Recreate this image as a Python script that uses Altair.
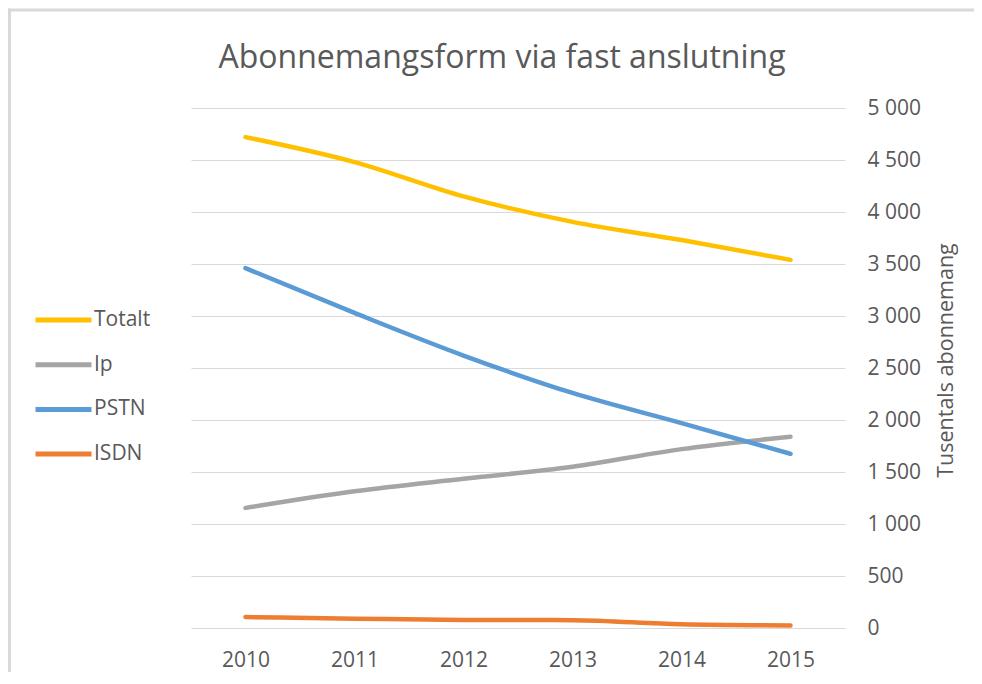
import altair as alt
import pandas as pd

years = ["2010", "2011", "2012", "2013", "2014", "2015"]
series = ["Totalt", "Ip", "PSTN", "ISDN"]
colors = ["#FFC000", "#A5A5A5", "#5B9BD5", "#ED7D31"]

totalt = [4720, 4480, 4150, 3905, 3730, 3540]
ip = [1155, 1315, 1435, 1550, 1720, 1840]
pstn = [3460, 3030, 2620, 2260, 1970, 1675]
isdn = [105, 90, 78, 75, 36, 25]

y_ticks = [0, 500, 1000, 1500, 2000, 2500, 3000, 3500, 4000, 4500, 5000]
chart_title = "Abonnemangsform via fast anslutning"

rows = []
for name, vals in zip(series, [totalt, ip, pstn, isdn]):
    for yr, v in zip(years, vals):
        rows.append({"År": yr, "Serie": name, "Värde": v})
df = pd.DataFrame(rows)

FONT = "Open Sans"
GREY = "#595959"
GRID = "#d9d9d9"

lines = alt.Chart(df).mark_line(
    strokeWidth=4.5, strokeCap="round", strokeJoin="round", interpolate="monotone"
).encode(
    x=alt.X("År:N", sort=years, scale=alt.Scale(padding=0.5),
            axis=alt.Axis(title=None, labelAngle=0, ticks=False, domain=False, grid=False,
                          labelFont=FONT, labelFontSize=21, labelColor=GREY, labelPadding=21)),
    y=alt.Y("Värde:Q", scale=alt.Scale(domain=[0, 5000]),
            axis=alt.Axis(orient="right", values=y_ticks, grid=True, gridColor=GRID, gridWidth=1,
                          domain=False, ticks=False, labelPadding=22,
                          labelExpr="replace(format(datum.value, ','), ',', ' ')",
                          labelFont=FONT, labelFontSize=21, labelColor=GREY,
                          title="Tusentals abonnemang", titleAngle=270, titleX=101, titleY=252,
                          titleAlign="center", titleBaseline="middle",
                          titleFont=FONT, titleFontSize=21.5, titleFontWeight="normal", titleColor=GREY)),
    color=alt.Color("Serie:N", sort=series, scale=alt.Scale(domain=series, range=colors),
                    legend=alt.Legend(title=None, orient="none", legendX=-158, legendY=199,
                                      symbolType="stroke", symbolSize=3136, symbolStrokeWidth=5,
                                      clipHeight=26, rowPadding=18.7, labelOffset=0, padding=0,
                                      labelFont=FONT, labelFontSize=21, labelColor=GREY)),
)

one = pd.DataFrame({"t": [chart_title]})

top_border = alt.Chart(one).mark_rule(color=GRID, strokeWidth=3).encode(
    x=alt.value(-183), x2=alt.value(783), y=alt.value(-98)
)
left_border = alt.Chart(one).mark_rule(color=GRID, strokeWidth=3).encode(
    x=alt.value(-181.5), y=alt.value(-99.5), y2=alt.value(600)
)

title = alt.Chart(one).mark_text(
    font=FONT, fontSize=32, color=GREY, align="center", baseline="alphabetic"
).encode(
    text="t:N", x=alt.value(311), y=alt.value(-40)
)

chart = alt.layer(top_border, left_border, title, lines).properties(
    width=654, height=520,
    autosize=alt.AutoSizeParams(type="none"),
    padding={"left": 183, "top": 100, "right": 129, "bottom": 44},
).configure_view(stroke=None, strokeWidth=0)

chart.save("out.html", embed_options={"renderer": "svg", "actions": False})
